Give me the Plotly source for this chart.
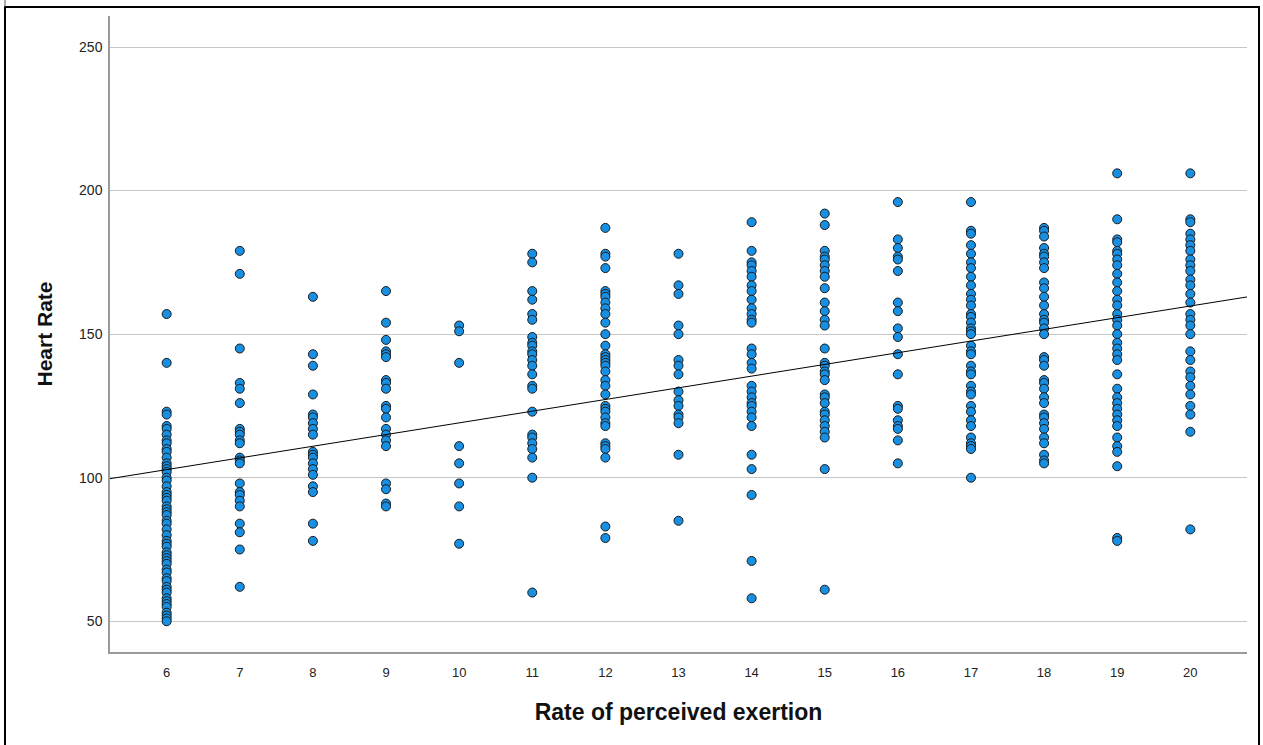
import plotly.graph_objects as go

# ---- data ----
rpe_levels = [6, 7, 8, 9, 10, 11, 12, 13, 14, 15, 16, 17, 18, 19, 20]

hr_6 = [157, 140, 123, 122, 118, 117, 115, 113, 112, 110, 109, 107, 105, 104, 103,
        102, 100, 99, 97, 95, 94, 93, 92, 90, 89, 88, 87, 85, 84, 82, 80, 78, 77,
        76, 74, 73, 72, 71, 70, 68, 67, 65, 64, 62, 61, 60, 58, 57, 56, 55, 53,
        52, 51, 50]
hr_7 = [179, 171, 145, 133, 131, 126, 117, 116, 115, 113, 112, 107, 106, 105, 98,
        95, 94, 92, 90, 84, 81, 75, 62]
hr_8 = [163, 143, 139, 129, 122, 121, 119, 117, 115, 109, 108, 107, 105, 103, 101,
        97, 95, 84, 78]
hr_9 = [165, 154, 148, 144, 143, 142, 134, 133, 131, 125, 124, 121, 117, 115, 113,
        111, 98, 96, 91, 90]
hr_10 = [153, 151, 140, 111, 105, 98, 90, 77]
hr_11 = [178, 175, 165, 162, 157, 155, 149, 147, 146, 144, 143, 141, 139, 136, 132,
         131, 123, 115, 114, 112, 110, 107, 100, 60]
hr_12 = [187, 178, 177, 173, 165, 164, 163, 161, 159, 157, 154, 150, 146, 143, 142,
         141, 140, 139, 137, 134, 132, 129, 125, 124, 123, 121, 119, 118, 112, 111,
         110, 107, 83, 79]
hr_13 = [178, 167, 164, 153, 150, 141, 139, 136, 130, 127, 125, 122, 121, 119, 108, 85]
hr_14 = [189, 179, 175, 174, 172, 170, 167, 165, 162, 159, 157, 155, 154, 145, 143,
         140, 138, 132, 130, 128, 126, 125, 123, 121, 118, 108, 103, 94, 71, 58]
hr_15 = [192, 188, 179, 177, 176, 174, 172, 170, 166, 161, 158, 155, 153, 145, 140,
         139, 137, 136, 134, 129, 128, 126, 123, 122, 120, 118, 116, 114, 103, 61]
hr_16 = [196, 183, 180, 177, 176, 172, 161, 158, 152, 149, 143, 136, 125, 124, 120,
         118, 117, 113, 105]
hr_17 = [196, 186, 185, 181, 178, 175, 173, 170, 167, 164, 162, 160, 157, 156, 154,
         152, 151, 150, 146, 144, 143, 139, 137, 136, 132, 130, 129, 125, 123, 120,
         118, 114, 112, 111, 110, 100]
hr_18 = [187, 186, 184, 180, 178, 177, 175, 173, 168, 166, 163, 160, 157, 155, 154,
         152, 150, 142, 141, 139, 134, 133, 131, 128, 126, 122, 121, 119, 117, 114,
         112, 108, 106, 105]
hr_19 = [206, 190, 183, 182, 179, 178, 176, 174, 171, 168, 165, 162, 160, 157, 155,
         153, 150, 147, 145, 143, 141, 136, 131, 128, 126, 124, 122, 120, 118, 114,
         111, 109, 104, 79, 78]
hr_20 = [206, 190, 189, 185, 183, 181, 179, 176, 174, 172, 169, 167, 164, 161, 157,
         155, 153, 150, 144, 141, 137, 135, 132, 129, 125, 122, 116, 82]

heart_rate_by_rpe = [hr_6, hr_7, hr_8, hr_9, hr_10, hr_11, hr_12, hr_13, hr_14,
                     hr_15, hr_16, hr_17, hr_18, hr_19, hr_20]

# fitted line (Heart Rate = a + b * RPE)
fit_intercept = 78.4
fit_slope = 4.07

y_ticks = [50, 100, 150, 200, 250]
x_range = [5.225, 20.775]
y_range = [39.3, 260.8]

# ---- build figure ----
xs, ys = [], []
for lvl, vals in zip(rpe_levels, heart_rate_by_rpe):
    xs.extend([lvl] * len(vals))
    ys.extend(vals)

fig = go.Figure()
fig.add_trace(go.Scatter(
    x=xs, y=ys, mode="markers",
    marker=dict(size=9, color="#1790E4", line=dict(color="#1a1a1a", width=1)),
    showlegend=False, hoverinfo="x+y",
))
fit_x = x_range
fit_y = [fit_intercept + fit_slope * v for v in fit_x]
fig.add_trace(go.Scatter(
    x=fit_x, y=fit_y, mode="lines",
    line=dict(color="#000000", width=1),
    showlegend=False, hoverinfo="skip",
))

W, H = 1263, 745
ml, mr, mt, mb = 110, 16, 16, 93
pw, ph = W - ml - mr, H - mt - mb

def px_x(p):
    return (p - ml) / pw

def px_y(p):
    return (H - mb - p) / ph

fig.update_layout(
    width=W, height=H,
    margin=dict(l=ml, r=mr, t=mt, b=mb, pad=0),
    paper_bgcolor="white", plot_bgcolor="white",
    font=dict(family="Liberation Sans, Arial, sans-serif", color="#222222"),
    xaxis=dict(
        range=x_range, tickmode="array", tickvals=rpe_levels,
        ticktext=[str(v) for v in rpe_levels],
        showgrid=False, zeroline=False, ticks="",
        showline=True, linecolor="#9a9a9a", linewidth=1.5,
        tickfont=dict(size=13, color="#222222"),
        ticklabelstandoff=8,
        title=dict(text="<b>Rate of perceived exertion</b>",
                   font=dict(size=23, color="#111111"), standoff=25),
        automargin=False,
    ),
    yaxis=dict(
        range=y_range, tickmode="array", tickvals=y_ticks,
        ticktext=[str(v) for v in y_ticks],
        showgrid=True, gridcolor="#c6c6c6", gridwidth=1,
        zeroline=False, ticks="",
        showline=True, linecolor="#9a9a9a", linewidth=1.5,
        tickfont=dict(size=14, color="#222222"),
        ticklabelstandoff=3,
        title=dict(text="<b>Heart Rate</b>",
                   font=dict(size=21, color="#111111"), standoff=21),
        automargin=False,
    ),
    shapes=[
        dict(type="rect", xref="paper", yref="paper",
             x0=px_x(5), x1=px_x(1259), y0=px_y(760), y1=px_y(7),
             line=dict(color="#000000", width=2), fillcolor="rgba(0,0,0,0)",
             layer="above"),
        dict(type="line", xref="paper", yref="paper",
             x0=px_x(5), x1=px_x(5), y0=px_y(7), y1=px_y(-5),
             line=dict(color="#555555", width=1)),
    ],
)

fig.write_html("out.html",
               config={"displayModeBar": False},
               post_script="document.body.style.margin='0';"
                           "document.body.style.overflow='hidden';")
